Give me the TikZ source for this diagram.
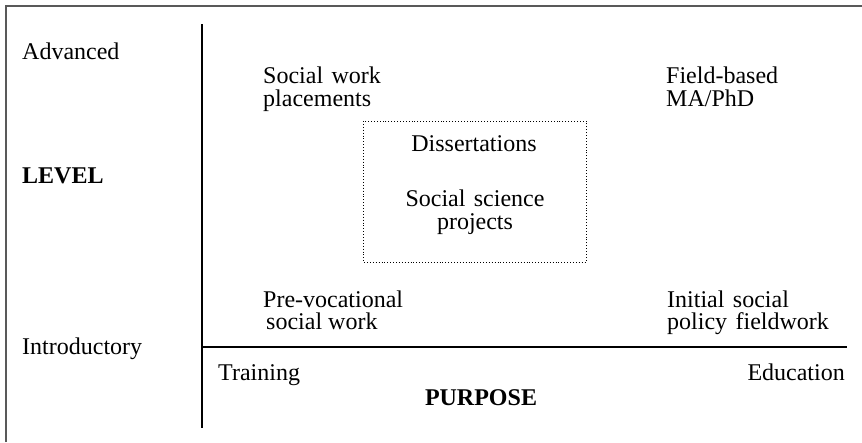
\documentclass[tikz,border=0pt]{standalone}
\usepackage{fontspec}
\setmainfont{Liberation Serif}
\begin{document}
\begin{tikzpicture}[x=1pt,y=-1pt,
  lbl/.style={inner sep=0pt,font=\fontsize{24}{25}\selectfont},
  lft/.style={lbl,anchor=base west},
  ctr/.style={lbl,anchor=base},
  frame/.style={draw=black!65,line width=2pt},
  axis/.style={draw=black,line width=1.6pt},
  zone/.style={draw=black,dotted,line width=0.9pt}]
\useasboundingbox (0,0) rectangle (862,442);
% outer frame (top and left visible)
\coordinate (f1) at (6,442);
\coordinate (f2) at (6,6);
\coordinate (f3) at (862,6);
\draw[frame] (f1) -- (f2) -- (f3);
% axes
\coordinate (vtop) at (202,24);
\coordinate (vbot) at (202,428);
\coordinate (hl) at (202,347);
\coordinate (hr) at (847,347);
\draw[axis] (vtop) -- (vbot);
\draw[axis] (hl) -- (hr);
% dotted zone
\coordinate (za) at (363,121);
\coordinate (zb) at (586,262);
\draw[zone] (za) rectangle (zb);
% level labels
\node[lft] (adv) at (22,59) {Advanced};
\node[lft] (level) at (22,183) {\bfseries LEVEL};
\node[lft] (intro) at (22,354) {Introductory};
% quadrant texts
\node[lft] (sw1) at (263,83) {Social\hspace{0.35em}work};
\node[lft] (sw2) at (263,106) {placements};
\node[lft] (fb1) at (666,83) {Field-based};
\node[lft] (fb2) at (666,106) {MA/PhD};
\node[ctr] (diss) at (474,151) {Dissertations};
\node[ctr] (ss1) at (475,206) {Social\hspace{0.35em}science};
\node[ctr] (ss2) at (475,229) {projects};
\node[lft] (pv1) at (263,307) {Pre-vocational};
\node[lft] (pv2) at (266,329) {social work};
\node[lft] (is1) at (667,307) {Initial\hspace{0.35em}social};
\node[lft] (is2) at (667,329) {policy\hspace{0.35em}fieldwork};
% purpose labels
\node[lft] (train) at (218,380) {Training};
\node[lbl,anchor=base east] (edu) at (845,380) {Education};
\node[ctr] (purp) at (481,405) {\bfseries PURPOSE};
\end{tikzpicture}
\end{document}
